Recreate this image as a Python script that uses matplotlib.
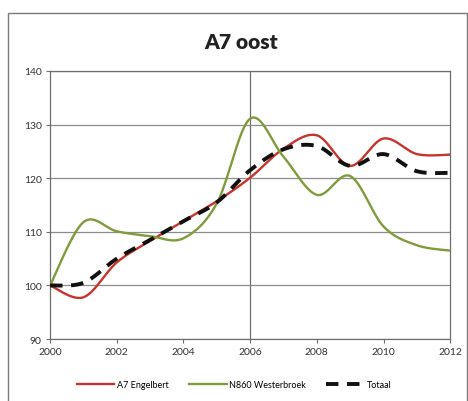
import numpy as np
import matplotlib.pyplot as plt
from matplotlib.patches import Rectangle

plt.rcParams['font.family'] = ['Lato', 'DejaVu Sans']

years = [2000, 2001, 2002, 2003, 2004, 2005, 2006, 2007, 2008, 2009, 2010, 2011, 2012]
a7_engelbert = [100, 97.8, 104.3, 108.3, 112, 115.7, 120.1, 125.5, 128, 122.3, 127.4, 124.5, 124.4]
n860_westerbroek = [100, 111.8, 110.1, 109.2, 108.8, 115.3, 131.1, 124, 116.9, 120.4, 111, 107.5, 106.5]
totaal = [100, 100.5, 105, 108.5, 112, 115.5, 121.5, 125.4, 126, 122.3, 124.5, 121.3, 121]


def smooth(x, y, n=30):
    # excel-like smoothed line (catmull-rom bezier)
    x = np.asarray(x, float)
    y = np.asarray(y, float)
    px = np.concatenate([[x[0]], x, [x[-1]]])
    py = np.concatenate([[y[0]], y, [y[-1]]])
    xs, ys = [], []
    t = np.linspace(0, 1, n)
    for i in range(1, len(px) - 2):
        p0 = np.array([px[i], py[i]])
        p3 = np.array([px[i + 1], py[i + 1]])
        p1 = p0 + (np.array([px[i + 1], py[i + 1]]) - np.array([px[i - 1], py[i - 1]])) / 6
        p2 = p3 - (np.array([px[i + 2], py[i + 2]]) - np.array([px[i], py[i]])) / 6
        b = ((1 - t) ** 3)[:, None] * p0 + (3 * (1 - t) ** 2 * t)[:, None] * p1 \
            + (3 * (1 - t) * t ** 2)[:, None] * p2 + (t ** 3)[:, None] * p3
        xs.extend(b[:, 0])
        ys.extend(b[:, 1])
    return xs, ys


fig = plt.figure(figsize=(4.68, 4.02), dpi=100)
ax = fig.add_axes([0.107, 0.154, 0.855, 0.667])

fig.patches.append(Rectangle((0.017, -0.01), 0.98, 0.975, transform=fig.transFigure,
                             fill=False, edgecolor='#7a7a7a', linewidth=1.0))

ax.plot(*smooth(years, a7_engelbert), color='#c8332e', lw=1.7, label='A7 Engelbert', zorder=3)
ax.plot(*smooth(years, n860_westerbroek), color='#7f9b3c', lw=1.7, label='N860 Westerbroek', zorder=3)
ax.plot(*smooth(years, totaal), color='#111111', lw=2.8, ls=(0, (3.2, 2.2)), label='Totaal', zorder=4)

ax.set_xlim(2000, 2012)
ax.set_ylim(90, 140)
ax.set_xticks(range(2000, 2013, 2))
ax.set_yticks(range(90, 141, 10))
ax.grid(axis='y', color='#8c8c8c', lw=0.9)
ax.axvline(2006, color='#6f6f6f', lw=0.9, zorder=1)
for s in ax.spines.values():
    s.set_color('#6f6f6f')
    s.set_linewidth(0.9)
ax.tick_params(labelsize=7.5, length=3, color='#6f6f6f', colors='#333333', pad=3)

fig.text(0.515, 0.895, 'A7 oost', ha='center', va='center', fontsize=15, fontweight='heavy', color='#222222')

fig.legend(loc='center', bbox_to_anchor=(0.5, 0.04), ncol=3, frameon=False, fontsize=6.5,
           handlelength=4.2, columnspacing=2.2, handletextpad=0.3)

fig.savefig('out.png', dpi=100)
